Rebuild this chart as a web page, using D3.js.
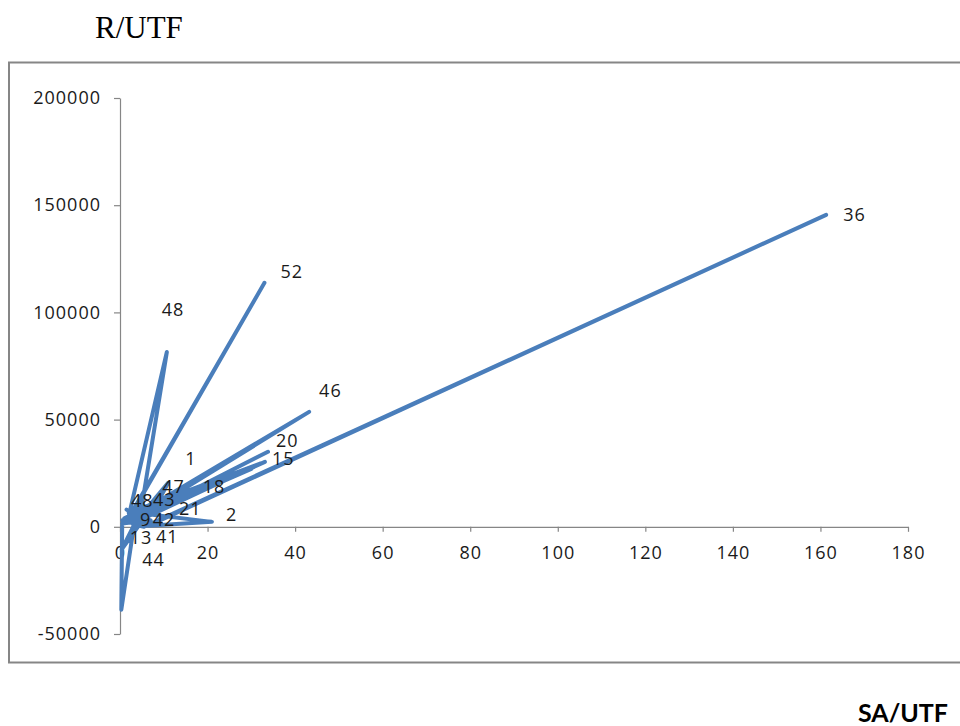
<!DOCTYPE html>
<html>
<head>
<meta charset="utf-8">
<script src="https://cdn.jsdelivr.net/npm/d3@7"></script>
<style>
  body { margin: 0; background: #fff; }
  svg { display: block; }
</style>
</head>
<body>
<svg id="chart" width="960" height="726"></svg>
<script>
// series, in drawing order (Excel scatter with straight lines)
const saUtf = [0.5, 0.3, 3.2, 0.4, 4.5, 1.8, 10.7, 5, 2.5, 33, 2.2, 1, 43.2, 2.5, 33.8, 4, 33.1, 18, 31, 6, 21, 6.5, 161.3, 5.5, 3, 11, 8, 30, 2, 1, 4, 0.5, 7, 2, 32, 5, 1.5, 6, 0.5]
const rUtf = [500, -38700, 800, -10500, 1200, 3300, 81500, 10000, 5500, 113800, 5000, 2500, 53600, 2500, 35000, 4000, 30300, 16000, 28500, 6000, 2300, 500, 145500, 0, 1000, 20500, 9000, 27000, 2000, 4000, 7000, 1500, 3000, 6500, 29500, 3500, 8000, 2000, 3000]
const pointLabels = ['', '44', '9', '13', '42', '48', '48', '43', '', '52', '', '', '46', '41', '20', '', '15', '18', '', '47', '2', '', '36', '', '', '1', '21', '', '', '', '', '', '', '', '', '', '', '', '']
// label nudges in px (dx, dy), like hand-moved data labels
const labelDx = [0, 21, 6, 8, 13, 3, -5, 11, 0, 16, 0, 0, 10, 25, 8, 0, 7, 4, 0, 16, 14, 0, 17, 0, 0, 17, 24, 0, 0, 0, 0, 0, 0, 0, 0, 0, 0, 0, 0]
const labelDy = [0, -44, 1, -5, 2, -13, -36, 1, 0, -5, 0, 0, -15, 22, -5, 0, 3, 1, 0, -21, -1, 0, 6, 0, 0, -18, 7, 0, 0, 0, 0, 0, 0, 0, 0, 0, 0, 0, 0]

const xTicks = [0, 20, 40, 60, 80, 100, 120, 140, 160, 180]
const yTicks = [-50000, 0, 50000, 100000, 150000, 200000]

const axisColor = '#868686',
    lineColor = '#4a7ebb',
    tickFont = 'Open Sans, Lato, sans-serif'

const svg = d3.select('#chart')

// outer chart frame
svg.append('rect')
    .attr('x', 9)
    .attr('y', 62.5)
    .attr('width', 990)
    .attr('height', 600)
    .attr('fill', 'none')
    .attr('stroke', axisColor)
    .attr('stroke-width', 2)

const x = d3.scaleLinear()
    .domain([0, 180])
    .range([120, 908])

const y = d3.scaleLinear()
    .domain([-50000, 200000])
    .range([634, 98])

// y axis (plain hyphen for negatives, like Excel)
const gy = svg.append('g')
    .attr('transform', `translate(${x(0)},0)`)
    .call(d3.axisLeft(y)
        .tickValues(yTicks)
        .tickFormat(d => String(d))
        .tickSize(6)
        .tickSizeOuter(0)
        .tickPadding(13))

// x axis
const gx = svg.append('g')
    .attr('transform', `translate(0,${y(0)})`)
    .call(d3.axisBottom(x)
        .tickValues(xTicks)
        .tickSize(5)
        .tickSizeOuter(0)
        .tickPadding(14))

;[gx, gy].forEach(g => {
    g.select('.domain').attr('stroke', axisColor).attr('stroke-width', 1.2)
    g.selectAll('.tick line').attr('stroke', axisColor).attr('stroke-width', 1.2)
    g.selectAll('.tick text')
        .attr('fill', '#1a1a1a')
        .style('font-family', tickFont)
        .style('font-size', '18px')
        .style('letter-spacing', '1px')
})

// the series line
const pts = saUtf.map((v, i) => ({ x: v, y: rUtf[i], label: pointLabels[i], dx: labelDx[i], dy: labelDy[i] }))

const line = d3.line()
    .x(d => x(d.x))
    .y(d => y(d.y))

svg.append('path')
    .datum(pts)
    .attr('d', line)
    .attr('fill', 'none')
    .attr('stroke', lineColor)
    .attr('stroke-width', 4)
    .attr('stroke-linejoin', 'round')
    .attr('stroke-linecap', 'round')

// data labels
svg.append('g')
    .selectAll('text')
    .data(pts.filter(d => d.label !== ''))
    .enter()
    .append('text')
    .attr('x', d => x(d.x) + d.dx)
    .attr('y', d => y(d.y) + d.dy)
    .attr('fill', '#1a1a1a')
    .style('font-family', tickFont)
    .style('font-size', '18px')
    .style('letter-spacing', '1px')
    .text(d => d.label)

// axis titles
svg.append('text')
    .attr('x', 95)
    .attr('y', 38)
    .style('font-family', 'Liberation Serif, Times New Roman, serif')
    .style('font-size', '31px')
    .attr('fill', '#000')
    .text('R/UTF')

svg.append('text')
    .attr('x', 948)
    .attr('y', 722)
    .attr('text-anchor', 'end')
    .style('font-family', 'Lato, Open Sans, sans-serif')
    .style('font-weight', 'bold')
    .style('font-size', '25px')
    .attr('fill', '#000')
    .text('SA/UTF')
</script>
</body>
</html>
